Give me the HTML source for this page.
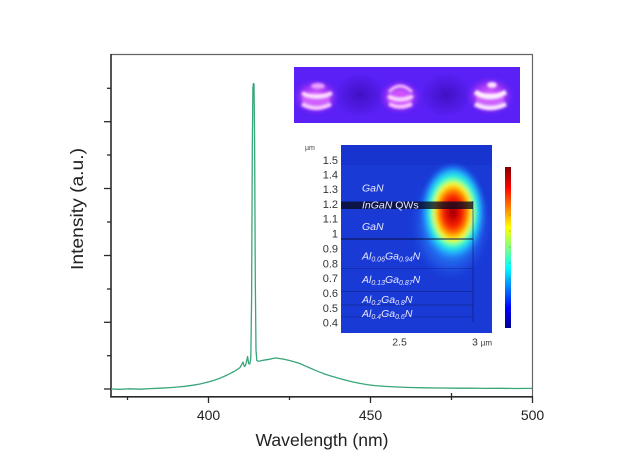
<!DOCTYPE html>
<html>
<head>
<meta charset="utf-8">
<style>
html,body{margin:0;padding:0;background:#fff;}
svg{display:block;}
text{font-family:"Liberation Sans",Arial,sans-serif;}
</style>
</head>
<body>
<svg width="620" height="476" viewBox="0 0 620 476" xmlns="http://www.w3.org/2000/svg">
<defs>
  <filter id="b1" x="-50%" y="-50%" width="200%" height="200%"><feGaussianBlur stdDeviation="1.2"/></filter>
  <filter id="b2" x="-50%" y="-50%" width="200%" height="200%"><feGaussianBlur stdDeviation="2"/></filter>
  <filter id="b3" x="-50%" y="-50%" width="200%" height="200%"><feGaussianBlur stdDeviation="3.5"/></filter>
  <radialGradient id="hot" cx="0.5" cy="0.5" r="0.5">
    <stop offset="0" stop-color="#8a0000"/>
    <stop offset="0.12" stop-color="#c80000"/>
    <stop offset="0.33" stop-color="#ff2a00"/>
    <stop offset="0.46" stop-color="#ff9a00"/>
    <stop offset="0.56" stop-color="#ffff20"/>
    <stop offset="0.68" stop-color="#30ffd0"/>
    <stop offset="0.82" stop-color="#20b0ff"/>
    <stop offset="1" stop-color="#1a50e8" stop-opacity="0"/>
  </radialGradient>
  <radialGradient id="glowb" cx="0.5" cy="0.5" r="0.5">
    <stop offset="0" stop-color="#30d8ff" stop-opacity="1"/>
    <stop offset="0.5" stop-color="#2c98ff" stop-opacity="0.85"/>
    <stop offset="0.8" stop-color="#2468f0" stop-opacity="0.5"/>
    <stop offset="1" stop-color="#1a40e0" stop-opacity="0"/>
  </radialGradient>
  <linearGradient id="jet" x1="0" y1="1" x2="0" y2="0">
    <stop offset="0" stop-color="#00008f"/>
    <stop offset="0.125" stop-color="#0000ff"/>
    <stop offset="0.375" stop-color="#00ffff"/>
    <stop offset="0.625" stop-color="#ffff00"/>
    <stop offset="0.875" stop-color="#ff0000"/>
    <stop offset="1" stop-color="#800000"/>
  </linearGradient>
  <radialGradient id="dark" cx="0.5" cy="0.5" r="0.5">
    <stop offset="0" stop-color="#3a0cb8" stop-opacity="0.8"/>
    <stop offset="1" stop-color="#3a0cb8" stop-opacity="0"/>
  </radialGradient>
  <radialGradient id="mag" cx="0.5" cy="0.5" r="0.5">
    <stop offset="0" stop-color="#f070ff" stop-opacity="1"/>
    <stop offset="0.55" stop-color="#c040f8" stop-opacity="0.75"/>
    <stop offset="1" stop-color="#8020f0" stop-opacity="0"/>
  </radialGradient>
  <clipPath id="hmclip"><rect x="341" y="145" width="151" height="188"/></clipPath>
  <clipPath id="phclip"><rect x="294" y="67" width="226" height="56"/></clipPath>
</defs>

<!-- axes frame -->
<line x1="111" y1="54.5" x2="533" y2="54.5" stroke="#666" stroke-width="1.2"/>
<line x1="532.5" y1="54.5" x2="532.5" y2="397" stroke="#666" stroke-width="1.2"/>
<line x1="111" y1="54" x2="111" y2="397.5" stroke="#2a2a2a" stroke-width="1.6"/>
<line x1="110.2" y1="396.8" x2="533" y2="396.8" stroke="#2a2a2a" stroke-width="1.6"/>

<!-- y ticks -->
<g stroke="#2a2a2a" stroke-width="1.3">
  <line x1="107" y1="88.3" x2="111" y2="88.3"/>
  <line x1="104" y1="121.7" x2="111" y2="121.7"/>
  <line x1="107" y1="155" x2="111" y2="155"/>
  <line x1="104" y1="188.5" x2="111" y2="188.5"/>
  <line x1="107" y1="222" x2="111" y2="222"/>
  <line x1="104" y1="255.5" x2="111" y2="255.5"/>
  <line x1="107" y1="289" x2="111" y2="289"/>
  <line x1="104" y1="322.3" x2="111" y2="322.3"/>
  <line x1="107" y1="355.7" x2="111" y2="355.7"/>
  <line x1="104" y1="389" x2="111" y2="389"/>
</g>
<!-- x ticks -->
<g stroke="#2a2a2a" stroke-width="1.3">
  <line x1="127.5" y1="396.8" x2="127.5" y2="400"/>
  <line x1="208.5" y1="396.8" x2="208.5" y2="403"/>
  <line x1="289.5" y1="396.8" x2="289.5" y2="400"/>
  <line x1="370.5" y1="396.8" x2="370.5" y2="403"/>
  <line x1="451.5" y1="393" x2="451.5" y2="400"/>
  <line x1="532.5" y1="396.8" x2="532.5" y2="403"/>
</g>
<g font-size="14" fill="#222" text-anchor="middle">
  <text x="208.5" y="420">400</text>
  <text x="370.5" y="420">450</text>
  <text x="532.5" y="420">500</text>
</g>
<text x="322" y="446" font-size="17.5" fill="#222" text-anchor="middle" textLength="133" lengthAdjust="spacingAndGlyphs">Wavelength (nm)</text>
<text transform="translate(83,209) rotate(-90)" font-size="17.5" fill="#222" text-anchor="middle" textLength="122" lengthAdjust="spacingAndGlyphs">Intensity (a.u.)</text>

<!-- spectrum -->
<path fill="none" stroke="#38a678" stroke-width="1.3" stroke-linejoin="round" d="
M111,389 L120,389.3 L130,388.8 L140,389.2 L150,388.6 L160,388.2 L170,387.6 L178,387 L185,386.3 L193,385.2 L200,384 L205,382.8 L210,381.5 L215,380 L220,378.2 L225,376 L230,373.6 L234,371.5 L238,369 L240,367.5 L241.5,365 L243,362 L244.3,366.5 L245.5,365.5 L246.6,361 L247.6,356.5 L248.6,363.5 L249.8,364 L250.8,358 L251.6,300 L252.3,150 L252.9,88 L253.4,83.5 L254,84 L254.6,140 L255.3,280 L256,350 L256.8,360.5 L258,361.2 L260,361 L263,360.3 L266,359.8 L270,359.2 L273,358.4 L276,358 L280,358.6 L284,359.2 L290,360.6 L295,362 L300,363.6 L305,365.8 L310,368 L315,370.2 L320,372.2 L326,374.5 L333,376.6 L340,378.6 L346,380.2 L353,382 L360,383.4 L367,384.6 L375,385.6 L385,386.4 L395,386.9 L410,387.5 L425,387.8 L440,388 L455,388.2 L470,388.1 L485,388.4 L500,388.3 L515,388.5 L532,388.4"/>

<!-- photo inset -->
<g clip-path="url(#phclip)">
  <rect x="294" y="67" width="226" height="56" fill="#5a20f6"/>
  <ellipse cx="360" cy="95" rx="26" ry="22" fill="url(#dark)"/>
  <ellipse cx="446" cy="95" rx="26" ry="22" fill="url(#dark)"/>
  <!-- object 1 -->
  <g>
    <ellipse cx="316" cy="97" rx="24" ry="19" fill="url(#mag)"/>
    <g filter="url(#b1)">
      <ellipse cx="318" cy="86" rx="7" ry="3" fill="#e8a0ff"/>
      <ellipse cx="316" cy="99" rx="14" ry="6" fill="#d060ff"/>
      <path d="M302,93 Q316,100 332,93" stroke="#ffe0ff" stroke-width="4" fill="none"/>
      <path d="M302,104 Q316,112 331,104" stroke="#ffd0ff" stroke-width="4" fill="none"/>
    </g>
  </g>
  <!-- object 2 -->
  <g>
    <ellipse cx="400" cy="97" rx="22" ry="18" fill="url(#mag)"/>
    <g filter="url(#b1)">
      <ellipse cx="400" cy="99" rx="12" ry="7" fill="#d050ff"/>
      <path d="M389,92 Q400,80 412,92" stroke="#f4c0ff" stroke-width="3" fill="none"/>
      <path d="M388,96 Q400,103 413,96" stroke="#ffd8ff" stroke-width="3.5" fill="none"/>
      <path d="M389,104 Q400,110 412,104" stroke="#ffc8ff" stroke-width="3.5" fill="none"/>
    </g>
  </g>
  <!-- object 3 -->
  <g>
    <ellipse cx="490" cy="96" rx="25" ry="20" fill="url(#mag)"/>
    <g filter="url(#b1)">
      <ellipse cx="490" cy="99" rx="14" ry="6" fill="#d060ff"/>
      <ellipse cx="492" cy="85" rx="5" ry="3" fill="#ffe0ff"/>
      <path d="M475,92 Q490,101 506,92" stroke="#fff0ff" stroke-width="5" fill="none"/>
      <path d="M475,104 Q490,112 506,104" stroke="#ffe6ff" stroke-width="4.5" fill="none"/>
    </g>
  </g>
</g>

<!-- heatmap inset -->
<g clip-path="url(#hmclip)">
  <rect x="341" y="145" width="151" height="188" fill="#1a3ad6"/>
  <rect x="341" y="145" width="151" height="20" fill="#1530c8" opacity="0.6"/>
  <ellipse cx="451" cy="224" rx="40" ry="56" fill="url(#glowb)" filter="url(#b3)"/>
  <ellipse cx="453" cy="212" rx="33" ry="50" fill="url(#hot)" filter="url(#b2)"/>
  <!-- layer lines -->
  <rect x="341" y="201.5" width="132" height="7.5" fill="#0a0a20" opacity="0.78"/>
  <line x1="341" y1="239" x2="473" y2="239" stroke="#0a1040" stroke-width="1.2" opacity="0.8"/>
  <line x1="473" y1="201" x2="473" y2="322" stroke="#0a1a60" stroke-width="1" opacity="0.6"/>
  <line x1="341" y1="268.5" x2="473" y2="268.5" stroke="#0a1a70" stroke-width="1" opacity="0.35"/>
  <line x1="341" y1="291.5" x2="473" y2="291.5" stroke="#0a1a70" stroke-width="1" opacity="0.45"/>
  <line x1="341" y1="305" x2="473" y2="305" stroke="#0a1a70" stroke-width="1" opacity="0.55"/>
  <line x1="341" y1="317" x2="473" y2="317" stroke="#0a1a70" stroke-width="1" opacity="0.35"/>
  <g fill="#e8e8ff" font-size="10.5" font-style="italic">
    <text x="362" y="191.5">GaN</text>
    <text x="362" y="208.5">InGaN <tspan font-style="normal">QWs</tspan></text>
    <text x="362" y="230">GaN</text>
    <text x="362" y="259.5">Al<tspan font-size="7" dy="2">0.06</tspan><tspan dy="-2">Ga</tspan><tspan font-size="7" dy="2">0.94</tspan><tspan dy="-2">N</tspan></text>
    <text x="362" y="283">Al<tspan font-size="7" dy="2">0.13</tspan><tspan dy="-2">Ga</tspan><tspan font-size="7" dy="2">0.87</tspan><tspan dy="-2">N</tspan></text>
    <text x="362" y="303">Al<tspan font-size="7" dy="2">0.2</tspan><tspan dy="-2">Ga</tspan><tspan font-size="7" dy="2">0.8</tspan><tspan dy="-2">N</tspan></text>
    <text x="362" y="317">Al<tspan font-size="7" dy="2">0.4</tspan><tspan dy="-2">Ga</tspan><tspan font-size="7" dy="2">0.6</tspan><tspan dy="-2">N</tspan></text>
  </g>
</g>
<!-- heatmap axes labels -->
<g font-size="11" fill="#333" text-anchor="end">
  <text x="338" y="164">1.5</text>
  <text x="338" y="178.5">1.4</text>
  <text x="338" y="193">1.3</text>
  <text x="338" y="208">1.2</text>
  <text x="338" y="222.5">1.1</text>
  <text x="338" y="237.5">1</text>
  <text x="338" y="252.5">0.9</text>
  <text x="338" y="267.5">0.8</text>
  <text x="338" y="282">0.7</text>
  <text x="338" y="297">0.6</text>
  <text x="338" y="312">0.5</text>
  <text x="338" y="326.5">0.4</text>
</g>
<text x="305" y="150" font-size="7" fill="#444">µm</text>
<text x="399.5" y="345.5" font-size="10.5" fill="#333" text-anchor="middle">2.5</text>
<text x="472" y="345.5" font-size="10.5" fill="#333">3 <tspan font-size="8">µm</tspan></text>

<!-- colorbar -->
<rect x="505" y="167" width="6" height="161" fill="url(#jet)"/>
<g stroke="#555" stroke-width="0.6" opacity="0.6">
  <line x1="509" y1="183" x2="511" y2="183"/>
  <line x1="509" y1="199" x2="511" y2="199"/>
  <line x1="509" y1="215" x2="511" y2="215"/>
  <line x1="509" y1="231" x2="511" y2="231"/>
  <line x1="509" y1="247" x2="511" y2="247"/>
  <line x1="509" y1="263" x2="511" y2="263"/>
  <line x1="509" y1="279" x2="511" y2="279"/>
  <line x1="509" y1="295" x2="511" y2="295"/>
  <line x1="509" y1="311" x2="511" y2="311"/>
</g>
</svg>
</body>
</html>
